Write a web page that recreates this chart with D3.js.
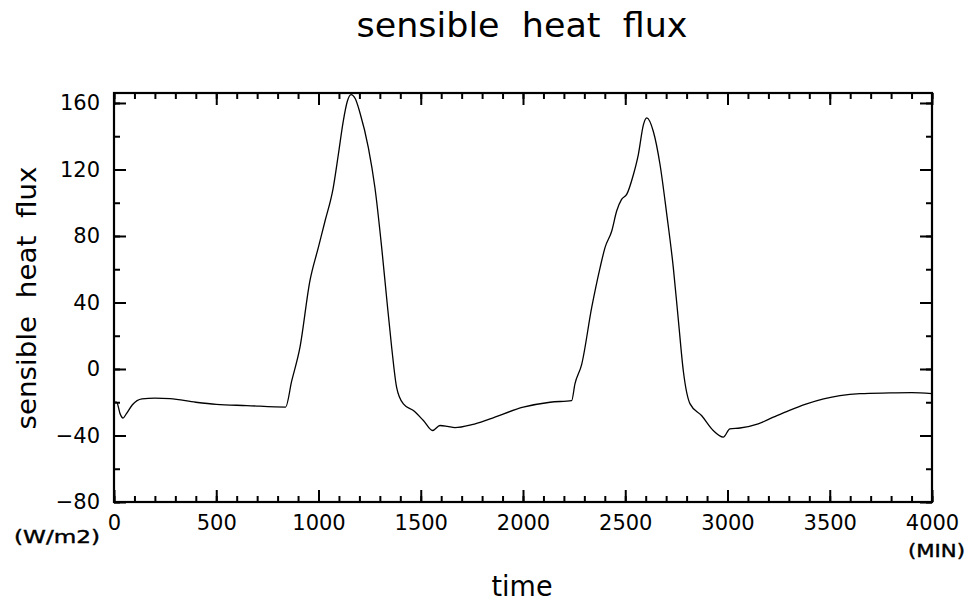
<!DOCTYPE html>
<html>
<head>
<meta charset="utf-8">
<script src="https://cdn.jsdelivr.net/npm/d3@7"></script>
<style>
  body{ margin:0; background:#fff; }
  svg{ display:block; }
  text{ font-family:"DejaVu Sans", sans-serif; fill:#000; }
</style>
</head>
<body>
<div id="chart"></div>
<script>
// time (MIN) and sensible heat flux (W/m2)
const time = [0, 13, 30, 44, 60, 90, 137, 200, 274, 400, 500, 650, 839,
    869, 909, 958, 999, 1032, 1072, 1097, 1121, 1141, 1159, 1180, 1203, 1244,
    1276, 1309, 1333, 1358, 1382, 1415, 1464, 1513, 1558, 1594, 1630, 1667,
    1750, 1839, 2001, 2132, 2238, 2254, 2287, 2336, 2377, 2401, 2434, 2458,
    2482, 2507, 2540, 2564, 2589, 2605, 2637, 2670, 2703, 2735, 2760, 2784,
    2817, 2873, 2930, 2979, 3012, 3061, 3150, 3224, 3300, 3387, 3470, 3550,
    3648, 3795, 3900, 4000];
const flux = [-20, -20, -27, -29.5, -27, -21.5, -18, -17.5, -17.8, -20, -21.3, -22, -22.9,
    -7.2, 12.8, 53, 73, 89, 109, 129, 149, 161, 165, 162.5, 154, 133,
    109, 73, 43, 12.8, -11, -21, -25, -31, -37, -34, -34.5, -35.3,
    -33.5, -30, -23, -20, -19, -9, 2.8, 37, 61, 73, 83, 95,
    102, 105, 117, 129, 147, 151, 143, 123, 93, 61, 29, -1.2,
    -21, -28, -37, -41, -36, -35.5, -33, -29, -25, -21, -18, -16,
    -14.8, -14.4, -14.2, -14.8];

const xTicks = [0, 500, 1000, 1500, 2000, 2500, 3000, 3500, 4000];
const yTicks = [-80, -40, 0, 40, 80, 120, 160];

const width = 970, height = 603;
const margin = {top:93, right:38, bottom:101, left:114};

const svg = d3.select("#chart").append("svg")
    .attr("width", width)
    .attr("height", height);

const x = d3.scaleLinear().domain([0, 4000]).range([margin.left, width - margin.right]);
const y = d3.scaleLinear().domain([-80, 166]).range([height - margin.bottom, margin.top]);

const fmt = d => d < 0 ? "\u2212" + Math.abs(d) : "" + d;
const minorX = d3.range(0, 4001, 100);
const minorY = d3.range(-80, 161, 20);

// ticks on all four sides, pointing inward
function tickAxis(axisFn, scale, vals, size, pad, tr, withLabels){
    let g = svg.append("g")
        .attr("transform", tr)
        .call(axisFn(scale).tickValues(vals).tickSize(-size).tickPadding(pad)
            .tickFormat(withLabels ? fmt : ""));
    g.select(".domain").remove();
    g.selectAll("line").attr("stroke", "#000").attr("stroke-width", 2);
    return g;
}

const bottomY = height - margin.bottom, rightX = width - margin.right;
tickAxis(d3.axisBottom, x, minorX, 6, 0, `translate(0,${bottomY})`, false);
tickAxis(d3.axisTop, x, minorX, 6, 0, `translate(0,${margin.top})`, false);
tickAxis(d3.axisLeft, y, minorY, 6, 0, `translate(${margin.left},0)`, false);
tickAxis(d3.axisRight, y, minorY, 6, 0, `translate(${rightX},0)`, false);

let gx = tickAxis(d3.axisBottom, x, xTicks, 12, 13, `translate(0,${bottomY})`, true);
tickAxis(d3.axisTop, x, xTicks, 12, 0, `translate(0,${margin.top})`, false);
let gy = tickAxis(d3.axisLeft, y, yTicks, 12, 14, `translate(${margin.left},0)`, true);
tickAxis(d3.axisRight, y, yTicks, 12, 0, `translate(${rightX},0)`, false);

gx.selectAll("text").attr("font-size", 21).attr("font-family", "DejaVu Sans");
gy.selectAll("text").attr("font-size", 21).attr("font-family", "DejaVu Sans");

// frame
svg.append("rect")
    .attr("x", margin.left)
    .attr("y", margin.top)
    .attr("width", rightX - margin.left)
    .attr("height", bottomY - margin.top)
    .attr("fill", "none")
    .attr("stroke", "#000")
    .attr("stroke-width", 2.2);

// the series
const line = d3.line()
    .x((d, i) => x(time[i]))
    .y(d => y(d))
    .curve(d3.curveMonotoneX);

svg.append("path")
    .attr("d", line(flux))
    .attr("fill", "none")
    .attr("stroke", "#000")
    .attr("stroke-width", 1.3);

// texts
svg.append("text")
    .attr("x", 522).attr("y", 37)
    .attr("text-anchor", "middle")
    .attr("font-size", 33)
    .attr("textLength", 331).attr("lengthAdjust", "spacingAndGlyphs")
    .text("sensible  heat  flux")
    .style("white-space", "pre");

svg.append("text")
    .attr("x", 522).attr("y", 596)
    .attr("text-anchor", "middle")
    .attr("font-size", 28)
    .attr("textLength", 61).attr("lengthAdjust", "spacingAndGlyphs")
    .text("time");

svg.append("text")
    .attr("transform", "translate(36,298) rotate(-90)")
    .attr("text-anchor", "middle")
    .attr("font-size", 26)
    .attr("textLength", 263).attr("lengthAdjust", "spacingAndGlyphs")
    .text("sensible  heat  flux")
    .style("white-space", "pre");

svg.append("text")
    .attr("x", 14).attr("y", 543)
    .attr("font-size", 17)
    .attr("stroke", "#000").attr("stroke-width", 0.4)
    .attr("textLength", 86).attr("lengthAdjust", "spacingAndGlyphs")
    .text("(W/m2)");

svg.append("text")
    .attr("x", 908).attr("y", 557)
    .attr("font-size", 17)
    .attr("stroke", "#000").attr("stroke-width", 0.4)
    .attr("textLength", 57).attr("lengthAdjust", "spacingAndGlyphs")
    .text("(MIN)");
</script>
</body>
</html>
